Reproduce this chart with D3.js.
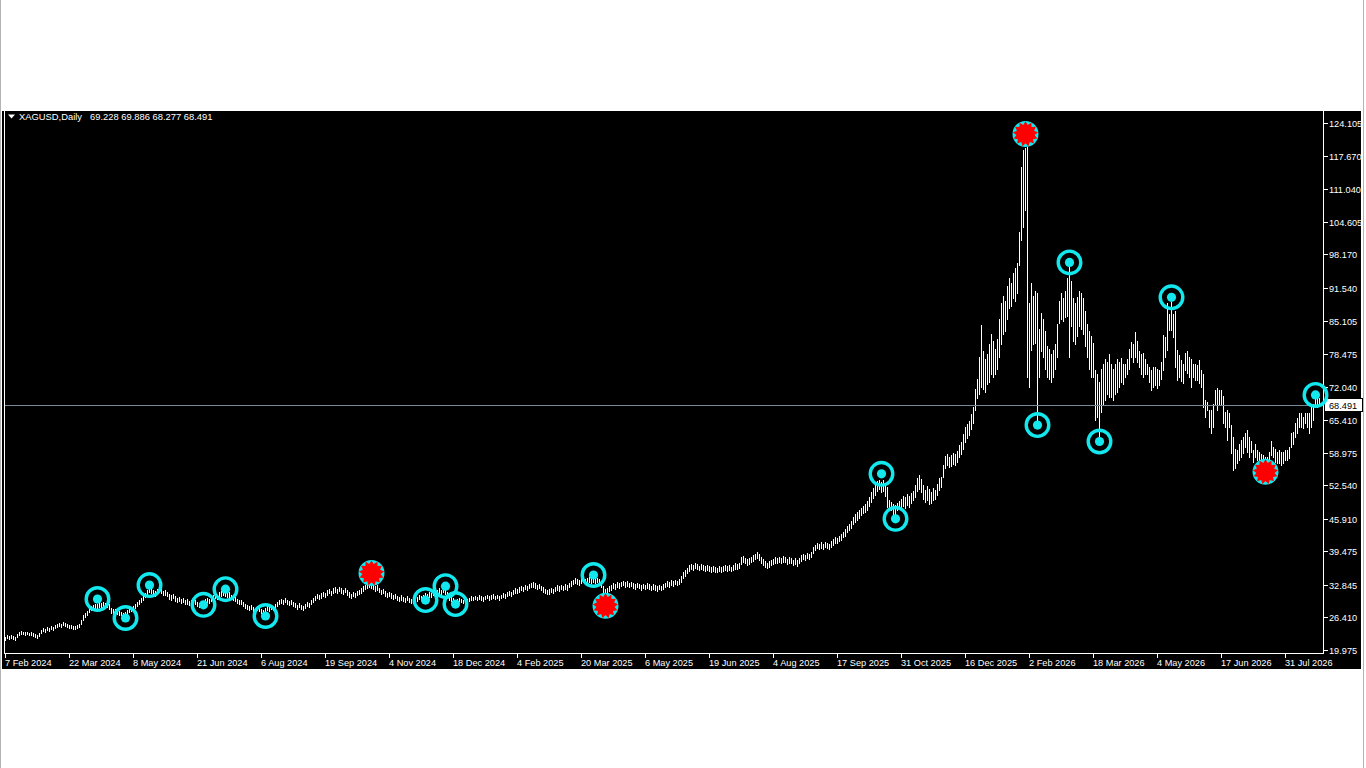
<!DOCTYPE html>
<html><head><meta charset="utf-8">
<script src="https://cdn.jsdelivr.net/npm/d3@7"></script>
<style>html,body{margin:0;padding:0;background:#fff;overflow:hidden}</style>
</head><body><svg id="c" width="1366" height="768"></svg>
<script>
// ---------- data ----------
const symbolTitle = "XAGUSD,Daily";
const lastOHLC = [69.228, 69.886, 68.277, 68.491];
const dateLabels = ["7 Feb 2024","22 Mar 2024","8 May 2024","21 Jun 2024","6 Aug 2024","19 Sep 2024","4 Nov 2024","18 Dec 2024","4 Feb 2025","20 Mar 2025","6 May 2025","19 Jun 2025","4 Aug 2025","17 Sep 2025","31 Oct 2025","16 Dec 2025","2 Feb 2026","18 Mar 2026","4 May 2026","17 Jun 2026","31 Jul 2026"];
const barsPerLabel = 32;
const priceTicks = [124.105,117.670,111.040,104.605,98.170,91.540,85.105,78.475,72.040,65.410,58.975,52.540,45.910,39.475,32.845,26.410,19.975];

const highs = [
22.6,22.9,22.7,23.0,22.8,22.6,23.1,23.6,23.8,23.6,23.5,23.6,23.4,23.5,23.3,23.1,22.9,23.3,23.9,24.3,24.2,24.5,24.4,24.7,24.6,24.9,25.1,25.4,25.2,25.6,25.3,25.1,
25.0,24.9,24.8,24.7,25.0,25.2,26.0,26.8,27.3,27.6,28.3,28.6,28.8,29.1,29.0,29.3,29.2,29.4,29.2,29.4,29.0,28.2,28.0,28.1,27.8,27.6,27.5,27.3,27.5,27.9,28.1,28.3,
28.6,29.0,29.4,29.8,30.2,30.8,31.3,31.9,32.5,32.2,31.9,31.6,32.0,32.3,32.1,31.7,31.9,31.5,31.0,30.8,31.1,30.6,30.3,30.5,30.1,30.3,29.9,30.0,29.7,29.9,29.6,29.8,
29.5,29.3,29.2,29.6,30.1,30.3,30.0,30.5,30.9,31.2,30.9,31.4,31.6,31.8,31.5,31.2,31.4,30.9,30.6,30.4,30.1,29.8,29.9,29.5,29.1,28.8,28.6,28.9,28.5,28.3,28.7,28.4,
28.1,27.9,28.2,28.6,28.4,28.8,28.6,29.0,29.4,29.8,30.1,29.9,30.2,29.9,29.6,29.9,29.5,29.2,28.9,29.3,28.9,28.6,29.0,29.5,29.2,29.8,30.3,30.7,31.0,30.8,31.2,31.5,
31.3,31.8,32.1,31.7,32.2,32.4,32.0,32.5,32.2,31.9,32.3,31.8,31.4,31.1,31.5,31.3,31.7,31.9,32.2,32.6,32.9,33.3,33.5,33.2,33.0,32.6,32.8,32.3,31.9,32.1,31.6,31.3,
31.5,31.2,30.9,31.1,30.7,30.5,30.8,30.4,30.2,30.6,30.3,30.0,30.4,30.8,30.5,30.9,30.6,30.8,31.2,31.0,31.4,31.2,31.7,31.5,31.9,32.2,31.8,32.3,32.0,31.4,30.8,30.5,
30.2,29.9,30.1,30.3,30.0,29.9,30.2,30.0,30.3,30.6,30.4,30.7,30.5,30.8,30.6,30.4,30.7,30.9,30.6,30.8,31.0,30.7,30.9,30.6,30.9,31.2,31.0,31.4,31.7,31.5,31.9,32.2,
32.0,32.4,32.7,32.5,32.9,32.7,33.1,33.3,33.5,33.2,32.9,33.1,32.7,32.4,32.1,31.8,32.0,32.3,32.1,32.5,32.8,32.6,32.9,32.7,33.0,32.8,33.3,33.7,33.9,34.2,34.0,33.8,
34.1,34.3,34.0,34.2,34.4,34.2,34.4,34.1,34.3,34.0,33.6,32.6,32.0,32.3,32.6,32.9,33.3,33.0,33.4,33.2,33.5,33.7,33.4,33.6,33.3,33.5,33.2,33.0,33.3,33.1,32.8,33.1,
32.9,33.2,33.0,32.7,33.0,32.8,32.6,32.9,32.7,33.0,33.3,33.6,33.4,33.8,33.6,33.9,33.7,34.0,34.6,35.3,35.8,36.2,36.7,37.0,36.8,37.2,36.9,36.6,36.9,36.7,36.5,36.8,
36.6,36.3,36.6,36.4,36.2,36.5,36.3,36.6,36.8,36.5,36.7,36.4,36.8,37.1,36.9,37.2,38.3,38.6,38.2,37.9,38.1,38.4,38.7,39.0,39.3,38.9,38.4,37.9,37.6,37.2,37.5,37.8,
38.0,38.3,38.1,38.4,38.2,38.5,38.3,38.0,38.3,38.1,37.8,38.1,37.7,38.2,38.7,39.0,38.8,39.2,38.9,39.4,40.3,40.8,41.2,40.9,41.3,41.0,41.4,41.2,41.0,41.5,41.9,42.4,
42.2,42.6,42.9,43.4,43.8,44.5,44.9,45.4,46.3,46.8,47.2,47.6,48.1,48.5,48.9,49.4,50.3,51.2,52.0,52.6,53.3,53.6,53.2,53.5,52.8,52.2,49.6,49.2,48.8,48.6,49.1,49.4,
49.8,50.5,50.2,50.8,50.4,51.0,51.5,52.6,54.0,54.5,53.8,52.5,51.6,52.3,51.8,51.2,52.0,51.6,52.8,53.9,54.2,56.5,58.3,58.8,58.2,58.6,59.0,58.7,59.4,60.5,61.1,62.6,
64.0,64.6,65.2,66.6,68.0,71.5,73.5,78.0,84.2,79.0,77.5,78.5,80.5,82.5,81.0,79.5,81.5,85.5,88.5,90.0,89.0,92.0,93.5,92.5,94.5,95.5,96.5,102.6,115.5,118.8,119.2,119.4,
88.6,92.5,90.0,91.0,90.6,83.5,86.6,85.5,83.0,80.0,79.5,78.5,79.3,80.5,84.5,89.0,90.5,89.5,91.0,93.5,95.7,93.0,89.5,88.5,89.8,91.0,90.5,89.5,87.0,84.5,83.0,82.0,
80.6,75.3,74.5,73.0,75.5,76.5,77.5,77.0,78.5,76.5,75.5,76.5,77.5,77.0,77.7,76.5,76.6,77.5,79.5,80.9,80.5,82.9,81.0,79.0,78.5,78.6,77.5,76.6,76.0,75.3,76.0,76.0,
75.5,75.3,77.0,82.3,81.9,88.5,86.5,88.8,86.5,86.9,79.3,78.3,77.3,76.5,78.6,79.0,78.0,77.6,76.6,76.6,76.3,77.3,75.3,74.6,69.4,69.1,67.4,67.4,68.7,71.4,71.7,71.4,
71.4,70.1,67.1,67.4,66.8,64.5,62.1,59.8,59.5,60.8,61.5,62.1,62.8,63.5,62.1,61.2,59.5,60.8,59.5,59.2,58.8,58.5,58.2,58.2,59.2,61.2,60.2,59.8,59.2,59.5,59.2,59.2,
59.5,59.5,60.2,62.8,63.1,64.8,65.8,66.8,66.8,66.1,66.8,66.8,66.8,68.1,68.7,70.1,69.8,69.886
];
const lows = [
22.0,22.3,22.1,22.4,22.1,21.9,22.5,23.0,23.2,23.1,23.0,23.1,22.9,23.0,22.8,22.6,22.4,22.8,23.3,23.7,23.6,23.9,23.8,24.1,24.0,24.3,24.5,24.8,24.6,25.0,24.7,24.6,
24.4,24.3,24.2,24.1,24.4,24.5,25.2,25.9,26.5,26.8,27.5,27.8,28.0,28.3,28.2,28.5,28.4,28.6,28.3,28.5,28.1,27.3,27.2,27.3,27.0,26.8,26.8,26.6,26.7,27.1,27.4,27.6,
27.9,28.3,28.6,29.0,29.4,29.8,30.4,30.9,31.5,31.3,30.9,30.7,31.1,31.4,31.2,30.8,30.9,30.6,30.1,29.9,30.2,29.7,29.4,29.6,29.2,29.4,29.0,29.1,28.9,29.1,28.8,29.0,
28.7,28.5,28.4,28.8,29.3,29.5,29.2,29.7,30.0,30.3,30.1,30.5,30.7,30.9,30.6,30.4,30.5,30.1,29.8,29.6,29.3,29.0,29.1,28.7,28.3,28.0,27.8,28.1,27.7,27.5,27.9,27.6,
27.3,27.1,27.4,27.8,27.6,28.0,27.8,28.2,28.6,29.0,29.3,29.1,29.4,29.1,28.8,29.1,28.7,28.4,28.1,28.5,28.1,27.8,28.2,28.7,28.4,29.0,29.5,29.9,30.2,30.0,30.3,30.6,
30.5,30.9,31.2,30.9,31.3,31.5,31.2,31.6,31.3,31.0,31.4,30.9,30.5,30.3,30.7,30.5,30.8,31.1,31.3,31.7,32.0,32.3,32.5,32.3,32.1,31.7,31.9,31.4,31.0,31.2,30.7,30.4,
30.6,30.3,30.1,30.2,29.9,29.7,29.9,29.6,29.4,29.8,29.5,29.3,29.6,29.9,29.7,30.0,29.8,30.0,30.3,30.2,30.5,30.4,30.8,30.6,31.0,31.2,30.9,31.4,31.1,30.5,29.9,29.7,
29.4,29.3,29.4,29.6,29.4,29.3,29.5,29.4,29.6,29.9,29.8,30.0,29.8,30.1,29.9,29.7,30.0,30.2,29.9,30.1,30.3,30.0,30.2,29.9,30.2,30.4,30.3,30.6,30.9,30.7,31.1,31.3,
31.2,31.5,31.8,31.6,32.0,31.8,32.2,32.4,32.5,32.3,32.0,32.2,31.8,31.5,31.2,31.0,31.1,31.4,31.2,31.6,31.9,31.7,32.0,31.8,32.1,31.9,32.4,32.7,33.0,33.3,33.1,32.9,
33.2,33.4,33.2,33.4,33.5,33.3,33.5,33.2,33.4,33.1,32.4,31.2,31.0,31.4,31.6,31.9,32.3,32.1,32.5,32.3,32.6,32.8,32.5,32.7,32.4,32.6,32.3,32.1,32.4,32.2,31.9,32.2,
32.0,32.3,32.1,31.8,32.1,31.9,31.7,32.0,31.8,32.1,32.4,32.7,32.5,32.8,32.7,33.0,32.8,33.1,33.5,34.2,34.7,35.1,35.6,36.0,35.8,36.1,35.9,35.7,35.9,35.7,35.6,35.8,
35.6,35.4,35.6,35.4,35.3,35.5,35.4,35.6,35.8,35.6,35.7,35.5,35.8,36.0,35.9,36.1,37.0,37.4,37.1,36.8,37.0,37.3,37.6,37.9,38.1,37.8,37.2,36.8,36.4,36.2,36.4,36.7,
37.0,37.2,37.1,37.3,37.2,37.4,37.3,37.0,37.2,37.1,36.8,37.0,36.6,37.1,37.6,37.9,37.8,38.1,37.9,38.3,39.2,39.7,40.1,39.9,40.2,40.0,40.3,40.1,39.9,40.4,40.8,41.2,
41.1,41.5,41.8,42.3,42.6,43.3,43.6,44.1,44.8,45.3,45.7,46.1,46.6,47.0,47.3,47.7,48.5,49.3,50.1,50.6,51.4,51.8,51.2,51.5,50.4,48.3,47.9,47.7,46.6,46.4,47.6,47.9,
48.1,48.4,48.0,48.7,48.3,49.0,49.6,50.3,51.5,51.9,51.2,49.8,49.3,49.6,48.9,49.0,49.6,49.8,50.6,51.6,52.2,54.1,56.0,56.5,56.1,56.3,56.8,56.6,57.2,58.2,58.8,59.8,
61.0,61.8,62.4,63.6,64.8,67.5,69.8,70.5,72.0,71.5,71.0,72.5,73.0,74.5,74.0,74.5,75.5,78.0,80.5,82.5,83.0,85.5,87.5,88.0,89.5,89.0,90.5,96.0,101.0,103.6,107.0,73.9,
72.0,79.3,80.5,80.7,64.9,74.0,79.0,78.0,75.5,74.0,73.5,73.0,74.0,75.5,78.0,84.6,85.5,85.0,85.8,86.0,77.9,84.0,81.0,80.5,82.0,84.0,83.5,82.5,80.0,78.0,75.5,74.0,
74.0,65.4,66.0,62.1,67.0,68.5,69.5,70.5,70.0,70.0,69.5,70.5,71.0,72.0,73.0,72.5,74.0,74.5,75.5,78.0,77.0,78.0,77.0,76.0,74.5,74.0,74.5,74.6,73.0,71.4,72.0,72.4,
71.8,72.4,73.5,75.3,78.0,79.3,83.2,83.2,81.9,76.0,73.4,74.0,73.2,72.8,75.3,74.7,74.0,72.0,74.0,73.3,73.3,72.7,72.0,68.1,66.1,67.4,64.1,62.8,64.1,68.7,67.4,68.7,
68.7,64.8,64.1,61.5,64.1,59.0,55.6,56.0,56.9,57.5,58.2,58.9,60.2,59.2,58.2,59.2,57.2,58.2,57.5,56.5,56.9,56.2,56.2,56.9,56.9,58.5,58.2,57.2,56.9,56.9,56.6,56.9,
57.5,57.6,57.9,60.2,60.8,62.1,62.8,64.1,64.1,63.8,64.8,64.1,62.8,64.1,65.4,68.1,68.1,68.277
];

// markers: bar index, price, kind
const markerBars   = [46, 60, 72, 99, 110, 130, 183, 210, 220, 225, 294, 300, 438, 445, 510, 516, 532, 547, 583, 630, 655];
const markerPrices = [30.05, 26.3, 32.8, 28.9, 32.0, 26.7, 35.2, 29.85, 32.6, 29.06, 34.8, 28.7, 54.8, 45.9, 122.0, 64.45, 96.6, 61.2, 89.7, 55.2, 70.4];
const markerKinds  = ["ring","ring","ring","ring","ring","ring","star","ring","ring","ring","ring","star","ring","ring","star","ring","ring","ring","ring","star","ring"];

// ---------- drawing ----------
const svg = d3.select("#c");
const cyan = "#12e8ee";
const plot = {left: 4, right: 1323, top: 111, bottom: 653};

const x = d3.scaleLinear().domain([0, highs.length - 1]).range([5.5, 5.5 + 2 * (highs.length - 1)]);
const y = d3.scaleLinear().domain([19.38, 126.54]).range([653, 111]);

// window frame
svg.append("rect").attr("x", 0).attr("y", 0).attr("width", 1366).attr("height", 768).attr("fill", "#fff");
svg.append("rect").attr("x", 2).attr("y", 111).attr("width", 1359).attr("height", 558).attr("fill", "#000");
svg.append("line").attr("x1", 0.5).attr("x2", 0.5).attr("y1", 0).attr("y2", 768).attr("stroke", "#b4b4b4");
svg.append("line").attr("x1", 1363.5).attr("x2", 1363.5).attr("y1", 0).attr("y2", 768).attr("stroke", "#b4b4b4");

// axes frame
const fg = svg.append("g").attr("shape-rendering", "crispEdges").attr("stroke", "#fff");
fg.append("line").attr("x1", 4.5).attr("x2", 4.5).attr("y1", plot.top).attr("y2", plot.bottom + 0.5);
fg.append("line").attr("x1", 4.5).attr("x2", plot.right + 0.5).attr("y1", plot.bottom + 0.5).attr("y2", plot.bottom + 0.5);
fg.append("line").attr("x1", plot.right + 0.5).attr("x2", plot.right + 0.5).attr("y1", plot.top).attr("y2", plot.bottom + 0.5);

// price axis
const py = svg.append("g");
py.selectAll("line.pt").data(priceTicks).join("line")
  .attr("class", "pt").attr("shape-rendering", "crispEdges")
  .attr("x1", plot.right + 1).attr("x2", plot.right + 5)
  .attr("y1", d => Math.round(y(d)) + 0.5).attr("y2", d => Math.round(y(d)) + 0.5)
  .attr("stroke", "#fff");
py.selectAll("text").data(priceTicks).join("text")
  .attr("x", plot.right + 6).attr("y", d => Math.round(y(d)) + 4)
  .attr("fill", "#fff").attr("font-family", "Liberation Sans, Arial, sans-serif").attr("font-size", "9.2px")
  .text(d => d.toFixed(3));

// time axis
const tickIdx = dateLabels.map((d, i) => i * barsPerLabel);
const tx = svg.append("g");
tx.selectAll("line").data(tickIdx).join("line")
  .attr("shape-rendering", "crispEdges")
  .attr("x1", d => x(d)).attr("x2", d => x(d))
  .attr("y1", plot.bottom).attr("y2", plot.bottom + 5)
  .attr("stroke", "#fff");
tx.selectAll("text").data(dateLabels).join("text")
  .attr("x", (d, i) => x(tickIdx[i]) - 0.5).attr("y", 666)
  .attr("fill", "#fff").attr("font-family", "Liberation Sans, Arial, sans-serif").attr("font-size", "9.2px")
  .text(d => d);

// bars
const bars = d3.range(highs.length).map(i => ({i, h: highs[i], l: lows[i]}));
svg.append("g").attr("shape-rendering", "crispEdges")
  .selectAll("line").data(bars).join("line")
  .attr("x1", d => x(d.i)).attr("x2", d => x(d.i))
  .attr("y1", d => Math.round(y(d.h)))
  .attr("y2", d => Math.max(Math.round(y(d.l)), Math.round(y(d.h)) + 1) + 1)
  .attr("stroke", "#fff").attr("stroke-width", 1);

// bid line
const bidY = Math.round(y(lastOHLC[3])) + 0.5;
svg.append("line").attr("shape-rendering", "crispEdges")
  .attr("x1", 5).attr("x2", plot.right).attr("y1", bidY).attr("y2", bidY)
  .attr("stroke", "#778899");
svg.append("rect").attr("x", plot.right + 1.5).attr("y", bidY - 7).attr("width", 38).attr("height", 13)
  .attr("fill", "#fff").attr("stroke", "#000").attr("stroke-width", 1);
svg.append("text").attr("x", plot.right + 6).attr("y", bidY + 3.5)
  .attr("fill", "#000").attr("font-family", "Liberation Sans, Arial, sans-serif").attr("font-size", "9.2px")
  .text(lastOHLC[3].toFixed(3));

// markers
const star = (cx, cy, n, R, r) => {
  const pts = [];
  for (let k = 0; k < 2 * n; k++) {
    const a = -Math.PI / 2 + k * Math.PI / n;
    const rr = k % 2 === 0 ? R : r;
    pts.push([cx + rr * Math.cos(a), cy + rr * Math.sin(a)]);
  }
  return "M" + pts.map(p => p[0].toFixed(2) + "," + p[1].toFixed(2)).join("L") + "Z";
};
const mk = svg.append("g");
markerBars.forEach((b, i) => {
  const cx = x(b), cy = y(markerPrices[i]);
  if (markerKinds[i] === "ring") {
    mk.append("circle").attr("cx", cx).attr("cy", cy).attr("r", 11.3)
      .attr("fill", "none").attr("stroke", cyan).attr("stroke-width", 3.4);
    mk.append("circle").attr("cx", cx).attr("cy", cy).attr("r", 4.6).attr("fill", cyan);
  } else {
    mk.append("circle").attr("cx", cx).attr("cy", cy).attr("r", 13).attr("fill", cyan);
    mk.append("path").attr("d", star(cx, cy, 13, 12.6, 9.2)).attr("fill", "#ff0000");
  }
});

// header
svg.append("path").attr("d", "M8,114.5L15,114.5L11.5,118.5Z").attr("fill", "#fff");
svg.append("text").attr("x", 19).attr("y", 119.5)
  .attr("fill", "#fff").attr("font-family", "Liberation Sans, Arial, sans-serif").attr("font-size", "9.4px")
  .text(symbolTitle);
svg.append("text").attr("x", 90).attr("y", 119.5)
  .attr("fill", "#fff").attr("font-family", "Liberation Sans, Arial, sans-serif").attr("font-size", "9.4px")
  .text(lastOHLC.map(v => v.toFixed(3)).join(" "));
</script>
</body></html>
